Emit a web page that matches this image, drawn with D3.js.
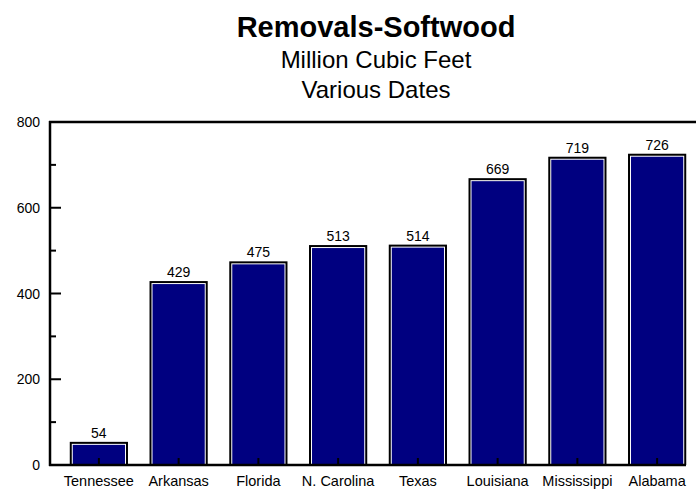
<!DOCTYPE html>
<html><head><meta charset="utf-8">
<script src="https://cdn.jsdelivr.net/npm/d3@7"></script>
<style>body{margin:0;background:#fff}svg{display:block}text{font-family:"Liberation Sans",Arial,sans-serif}</style>
</head><body>
<svg id="c" width="696" height="489"></svg>
<script>
const categories = ["Tennessee","Arkansas","Florida","N. Carolina","Texas","Louisiana","Mississippi","Alabama"];
const values = [54,429,475,513,514,669,719,726];
const yTicks = [0,200,400,600,800];
const yMinorTicks = [100,300,500,700];
const titleLines = ["Removals-Softwood","Million Cubic Feet","Various Dates"];

const svg = d3.select("#c");
const x = d3.scaleBand().domain(categories).range([59, 697]).paddingInner(0.27).paddingOuter(0.135);
const y = d3.scaleLinear().domain([0, 800]).range([465, 122]);

// titles
svg.append("text").attr("x", 376).attr("y", 37).attr("text-anchor","middle")
  .attr("font-size", 29).attr("font-weight","bold").text(titleLines[0]);
svg.append("text").attr("x", 376).attr("y", 68).attr("text-anchor","middle")
  .attr("font-size", 24).text(titleLines[1]);
svg.append("text").attr("x", 376).attr("y", 98).attr("text-anchor","middle")
  .attr("font-size", 24).text(titleLines[2]);

// bars
const g = svg.append("g");
const bars = g.selectAll("g.bar").data(categories).join("g");
bars.append("rect")
  .attr("x", d => x(d)).attr("y", (d,i) => y(values[i]))
  .attr("width", x.bandwidth()).attr("height", (d,i) => y(0) - y(values[i]))
  .attr("fill", "#000000");
bars.append("rect")
  .attr("x", d => x(d) + 2).attr("y", (d,i) => y(values[i]) + 2)
  .attr("width", x.bandwidth() - 4).attr("height", (d,i) => y(0) - y(values[i]) - 2)
  .attr("fill", "#ffffff");
bars.append("rect")
  .attr("x", d => x(d) + 3).attr("y", (d,i) => y(values[i]) + 3)
  .attr("width", x.bandwidth() - 6).attr("height", (d,i) => y(0) - y(values[i]) - 3)
  .attr("fill", "#000080");
// category ticks
bars.append("line")
  .attr("x1", d => x(d) + x.bandwidth()/2).attr("x2", d => x(d) + x.bandwidth()/2)
  .attr("y1", y(0)).attr("y2", y(0) - 7)
  .attr("stroke", "#000").attr("stroke-width", 2);
// value labels
bars.append("text")
  .attr("x", d => x(d) + x.bandwidth()/2).attr("y", (d,i) => y(values[i]) - 4)
  .attr("text-anchor","middle").attr("font-size", 14).attr("fill","#000")
  .text((d,i) => values[i]);

// x labels
svg.append("g").selectAll("text").data(categories).join("text")
  .attr("x", d => x(d) + x.bandwidth()/2).attr("y", 486)
  .attr("text-anchor","middle").attr("font-size", 14.5).text(d => d);

// axes frame
svg.append("line").attr("x1", 50).attr("x2", 50).attr("y1", 121).attr("y2", 466)
  .attr("stroke","#000").attr("stroke-width", 2.5);
svg.append("line").attr("x1", 49).attr("x2", 696).attr("y1", y(800)).attr("y2", y(800))
  .attr("stroke","#000").attr("stroke-width", 2.5);
svg.append("line").attr("x1", 49).attr("x2", 686).attr("y1", y(0)).attr("y2", y(0))
  .attr("stroke","#000").attr("stroke-width", 2.5);

// y ticks
svg.append("g").selectAll("line.maj").data(yTicks).join("line")
  .attr("x1", 50).attr("x2", 61).attr("y1", d => y(d)).attr("y2", d => y(d))
  .attr("stroke","#000").attr("stroke-width", 2);
svg.append("g").selectAll("line.min").data(yMinorTicks).join("line")
  .attr("x1", 50).attr("x2", 56).attr("y1", d => y(d)).attr("y2", d => y(d))
  .attr("stroke","#000").attr("stroke-width", 2);
svg.append("g").selectAll("text").data(yTicks).join("text")
  .attr("x", 40).attr("y", d => y(d) + 5).attr("text-anchor","end")
  .attr("font-size", 14).text(d => d);
</script>
</body></html>
